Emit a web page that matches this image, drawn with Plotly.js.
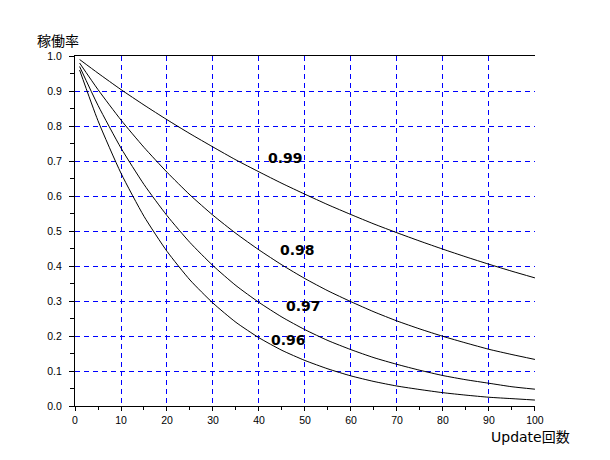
<!DOCTYPE html>
<html>
<head>
<meta charset="utf-8">
<script src="https://cdn.plot.ly/plotly-3.0.1.min.js"></script>
<style>
  html, body { margin: 0; padding: 0; background: #fff; }
  #chart { width: 610px; height: 460px; }
</style>
</head>
<body>
<div id="chart"></div>
<script>
const updates = [1, 5, 10, 15, 20, 25, 30, 35, 40, 45, 50, 55, 60, 65, 70, 75, 80, 85, 90, 95, 100];

// availability, one array per rate
const rate99 = [0.990, 0.951, 0.904, 0.860, 0.818, 0.778, 0.740, 0.703, 0.669, 0.636, 0.605,
                0.575, 0.547, 0.520, 0.495, 0.471, 0.448, 0.426, 0.405, 0.385, 0.366];
const rate98 = [0.980, 0.904, 0.817, 0.739, 0.668, 0.603, 0.545, 0.493, 0.446, 0.403, 0.364,
                0.329, 0.298, 0.269, 0.243, 0.220, 0.199, 0.180, 0.162, 0.147, 0.133];
const rate97 = [0.970, 0.859, 0.737, 0.633, 0.544, 0.467, 0.401, 0.344, 0.296, 0.254, 0.218,
                0.187, 0.161, 0.138, 0.119, 0.102, 0.087, 0.075, 0.065, 0.055, 0.048];
const rate96 = [0.960, 0.815, 0.665, 0.542, 0.442, 0.360, 0.294, 0.239, 0.195, 0.159, 0.130,
                0.106, 0.086, 0.070, 0.057, 0.047, 0.038, 0.031, 0.025, 0.021, 0.017];

const seriesNames = ['0.99', '0.98', '0.97', '0.96'];
const seriesValues = [rate99, rate98, rate97, rate96];
// where each curve label sits (x, y in data units)
const labelX = [45.7, 48.3, 49.6, 46.5];
const labelY = [0.71, 0.445, 0.285, 0.19];

let traces = seriesValues.map((vals, i) => ({
    type: 'scatter',
    mode: 'lines',
    name: seriesNames[i],
    x: updates,
    y: vals,
    line: { color: '#000000', width: 1, shape: 'spline', smoothing: 0.6 },
    hoverinfo: 'skip'
}));

let labels = seriesNames.map((name, i) => ({
    x: labelX[i],
    y: labelY[i],
    xref: 'x',
    yref: 'y',
    text: '<b>' + name + '</b>',
    showarrow: false,
    font: { family: 'DejaVu Sans, sans-serif', size: 14, color: '#000000' }
}));

let tickFont = { family: 'Liberation Sans, Arial, sans-serif', size: 10.5, color: '#000000' };

let layout = {
    width: 610,
    height: 460,
    margin: { l: 75, r: 75, t: 56, b: 54 },
    paper_bgcolor: '#ffffff',
    plot_bgcolor: '#ffffff',
    showlegend: false,
    xaxis: {
        range: [0, 100.01],
        dtick: 10,
        tick0: 0,
        ticks: 'outside',
        ticklen: 4,
        tickcolor: '#000000',
        tickfont: tickFont,
        ticklabelstandoff: 0,
        showline: true,
        linecolor: '#000000',
        linewidth: 1,
        mirror: true,
        showgrid: true,
        gridcolor: '#0000ff',
        gridwidth: 1,
        griddash: '5px,4px',
        zeroline: false,
        minor: { dtick: 5, ticks: 'outside', ticklen: 3, tickcolor: '#000000', showgrid: false }
    },
    yaxis: {
        range: [0, 1],
        dtick: 0.1,
        tick0: 0,
        tickformat: '.1f',
        ticks: 'outside',
        ticklen: 5,
        tickcolor: '#000000',
        tickfont: tickFont,
        ticklabelstandoff: 5,
        showline: true,
        linecolor: '#000000',
        linewidth: 1,
        showgrid: true,
        gridcolor: '#0000ff',
        gridwidth: 1,
        griddash: '5px,4px',
        zeroline: false,
        minor: { dtick: 0.05, ticks: 'outside', ticklen: 4, tickcolor: '#000000', showgrid: false }
    },
    annotations: labels.concat([
        {
            text: '稼働率',
            xref: 'paper', yref: 'paper',
            x: -0.037, y: 1.046,
            xanchor: 'center', yanchor: 'middle',
            showarrow: false,
            font: { family: 'Noto Sans CJK JP, sans-serif', size: 14, color: '#000000' }
        },
        {
            text: 'Update回数',
            xref: 'paper', yref: 'paper',
            x: 1.08, y: -0.089,
            xanchor: 'right', yanchor: 'middle',
            showarrow: false,
            font: { family: 'DejaVu Sans, Noto Sans CJK JP, sans-serif', size: 14, color: '#000000' }
        }
    ])
};

Plotly.newPlot('chart', traces, layout, { displayModeBar: false, staticPlot: true });
</script>
</body>
</html>
